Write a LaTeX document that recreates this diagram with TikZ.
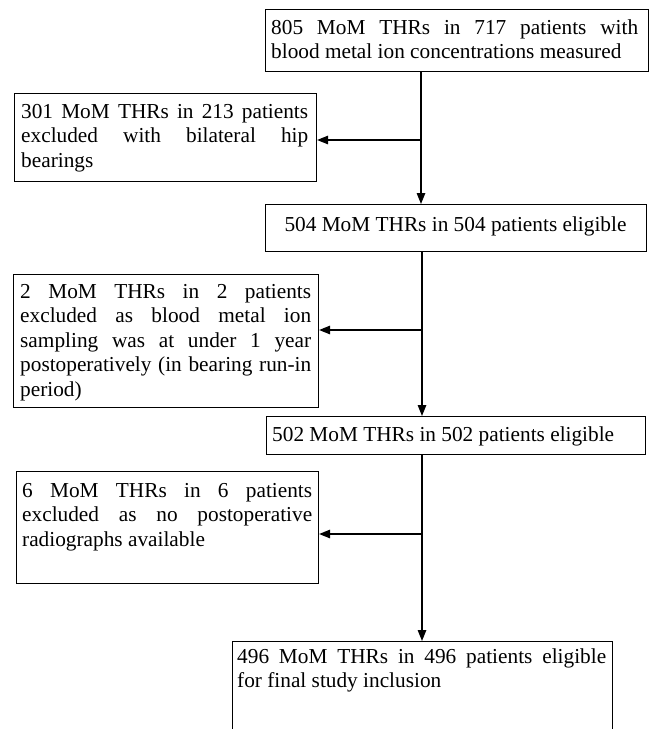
\documentclass[tikz,border=0pt]{standalone}
\usepackage{fontspec}
\setmainfont{Liberation Serif}
\usetikzlibrary{arrows.meta}
\hyphenpenalty=10000
\exhyphenpenalty=10000
\tolerance=10000
\begin{document}
\begin{tikzpicture}[x=1pt,y=-1pt,
  box/.style={draw, line width=1.1pt, inner sep=0pt, anchor=north west},
  txt/.style={inner sep=0pt, anchor=base west, align=justify, font=\fontsize{21.3}{24.5}\selectfont},
  ctxt/.style={inner sep=0pt, anchor=base, font=\fontsize{21.3}{24.5}\selectfont},
  arr/.style={line width=1.4pt, -{Triangle[length=11pt,width=8.5pt]}},
  ln/.style={line width=1.4pt}]
\useasboundingbox (0,0) rectangle (650,729);
% boxes
\node[box, minimum width=383pt, minimum height=62pt] (b1) at (265,9) {};
\node[box, minimum width=302pt, minimum height=88pt] (b301) at (14,93) {};
\node[box, minimum width=381pt, minimum height=47pt] (b504) at (265,204) {};
\node[box, minimum width=305pt, minimum height=133pt] (b2) at (13,274) {};
\node[box, minimum width=379pt, minimum height=38pt] (b502) at (266,416) {};
\node[box, minimum width=302pt, minimum height=112pt] (b6) at (16,471) {};
\node[box, minimum width=380pt, minimum height=110pt] (b496) at (232,641) {};
% texts
\node[txt, text width=367pt] (t1) at (271,34) {805 MoM THRs in 717 patients with\linebreak blood metal ion concentrations measured};
\node[txt, text width=287pt] (t301) at (21,118) {301 MoM THRs in 213 patients\linebreak excluded with bilateral hip\linebreak bearings};
\node[ctxt] (t504) at (455.5,231) {504 MoM THRs in 504 patients eligible};
\node[txt, text width=291pt] (t2) at (20,298) {2 MoM THRs in 2 patients\linebreak excluded as blood metal ion\linebreak sampling was at under 1 year\linebreak postoperatively (in bearing run-in\linebreak period)};
\node[ctxt, anchor=base west] (t502) at (272,441.5) {502 MoM THRs in 502 patients eligible};
\node[txt, text width=290pt] (t6) at (22,497) {6 MoM THRs in 6 patients\linebreak excluded as no postoperative\linebreak radiographs available};
\node[txt, text width=369pt] (t496) at (237,663) {496 MoM THRs in 496 patients eligible\linebreak for final study inclusion};
% junction points
\coordinate (j1) at (421,140);
\coordinate (j2) at (422,330);
\coordinate (j3) at (422,534);
% connectors
\draw[arr] (b1.south -| j1) -- (b504.north -| j1);
\draw[arr] (j1) -- (b301.east |- j1);
\draw[arr] (b504.south -| j2) -- (b502.north -| j2);
\draw[arr] (j2) -- (b2.east |- j2);
\draw[arr] (b502.south -| j3) -- (b496.north -| j3);
\draw[arr] (j3) -- (b6.east |- j3);
\end{tikzpicture}
\end{document}
